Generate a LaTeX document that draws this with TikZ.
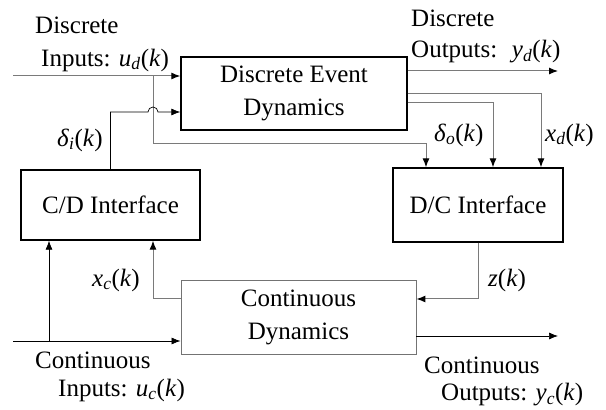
\documentclass[tikz,border=0pt]{standalone}
\usepackage{fontspec}
\setmainfont{Liberation Serif}
\usetikzlibrary{arrows.meta}
\newcommand{\sig}[2]{\textit{#1}\textsubscript{\textit{#2}}(\textit{k})}

\begin{document}
\begin{tikzpicture}[x=1pt,y=1pt,
	font=\fontsize{25}{33}\selectfont,
	blk/.style={draw=black, line width=1.4pt, align=center},
	wire/.style={draw=black!52, line width=1pt, -{Latex[length=9pt,width=7pt,color=black]}},
	bwire/.style={draw=black, line width=0.7pt, -{Latex[length=9pt,width=7pt]}},
	lbl/.style={inner sep=0pt, anchor=west}]
		\useasboundingbox (0,0) rectangle (606,410);
		\node[blk, minimum width=226, minimum height=73] (ded) at (294,316.5) {Discrete Event\\Dynamics};
		\node[blk, minimum width=179, minimum height=70] (cd) at (110.5,205) {C/D Interface};
		\node[blk, minimum width=170, minimum height=74] (dc) at (478,205) {D/C Interface};
		\node[blk, draw=black!55, line width=0.9pt, minimum width=235, minimum height=74] (cont) at (298.5,93) {Continuous\\Dynamics};
		% free ends
		\coordinate (udin) at (13,334);
		\coordinate (ucin) at (13,69);
		\coordinate (ydout) at (558,339);
		\coordinate (ycout) at (558,74);
		% discrete side
		\draw[wire] (udin) -- (ded.west |- udin);
		\draw[wire] (153,334) -- (153,266) -| (426,0 |- dc.north);
		\draw[bwire] (cd.north) |- (148,298) arc (180:0:5) -- (ded.west |- 0,298);
		\draw[wire] (ded.east |- ydout) -- (ydout);
		\draw[wire] (ded.east |- 0,316) -| (541,0 |- dc.north);
		\draw[wire] (ded.east |- 0,307) -| (493,0 |- dc.north);
		% continuous side
		\draw[bwire] (ucin) -- (cont.west |- ucin);
		\draw[bwire] (49,69) -- (49,0 |- cd.south);
		\draw[wire] (cont.west |- 0,111) -| (153,0 |- cd.south);
		\draw[wire] (dc.south) |- (cont.east |- 0,111);
		\draw[bwire] (cont.east |- ycout) -- (ycout);
		% labels
		\node[lbl] (dinA) at (35,385) {Discrete};
		\node[lbl] (dinB) at (41,350) {Inputs: \sig{u}{d}};
		\node[lbl] (doutA) at (411,392) {Discrete};
		\node[lbl] (doutB) at (411,358) {Outputs: \ \sig{y}{d}};
		\node[lbl] (deli) at (57,270) {\textit{δ}\textsubscript{\textit{i}}(\textit{k})};
		\node[lbl] (delo) at (434,275) {\textit{δ}\textsubscript{\textit{o}}(\textit{k})};
		\node[lbl] (xd) at (545,275) {\sig{x}{d}};
		\node[lbl] (xc) at (92,130) {\sig{x}{c}};
		\node[lbl] (zk) at (488,130) {\textit{z}(\textit{k})};
		\node[lbl] (cinA) at (35,50) {Continuous};
		\node[lbl] (cinB) at (58,20) {Inputs: \sig{u}{c}};
		\node[lbl] (coutA) at (424,45) {Continuous};
		\node[lbl] (coutB) at (441,15) {Outputs: \sig{y}{c}};
	\end{tikzpicture}
\end{document}
